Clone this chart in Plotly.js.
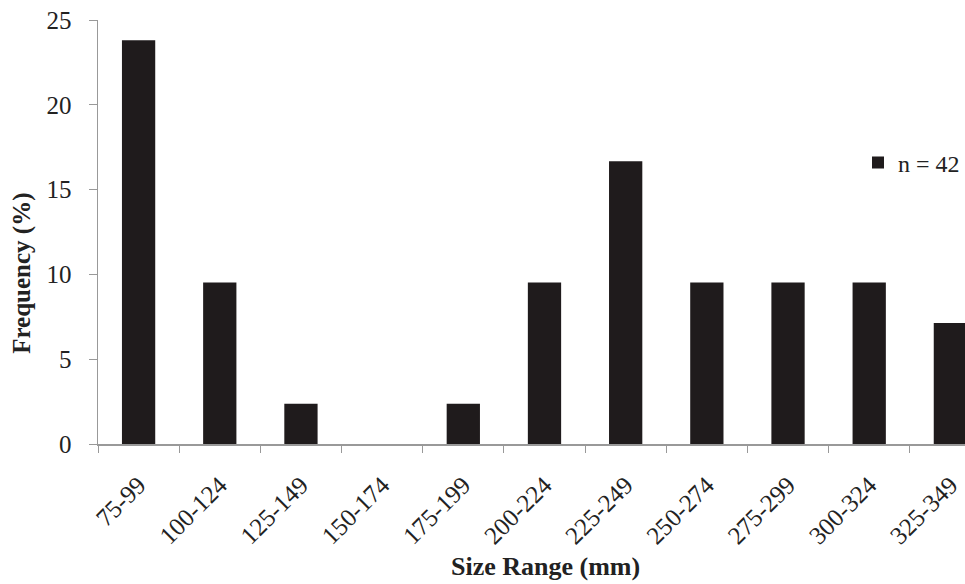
<!DOCTYPE html>
<html>
<head>
<meta charset="utf-8">
<script src="https://cdn.plot.ly/plotly-3.0.1.min.js"></script>
<style>html,body{margin:0;padding:0;background:#fff;}#chart{width:965px;height:584px;}</style>
</head>
<body>
<div id="chart"></div>
<script>
const categories = ["75-99","100-124","125-149","150-174","175-199","200-224","225-249","250-274","275-299","300-324","325-349"];
const frequency = [23.81, 9.52, 2.38, 0, 2.38, 9.52, 16.67, 9.52, 9.52, 9.52, 7.14];
const seriesName = "n = 42";
const xTitle = "Size Range (mm)";
const yTitle = "Frequency (%)";

const serif = "Liberation Serif";
const trace = {
  type: "bar",
  x: categories,
  y: frequency,
  name: seriesName,
  marker: {color: "#1f1b1c", line: {width: 0}},
  showlegend: true
};
const layout = {
  width: 965, height: 584,
  margin: {l: 98, r: 0, t: 20, b: 140},
  paper_bgcolor: "#fff", plot_bgcolor: "#fff",
  bargap: 0.59,
  font: {family: serif, color: "#222", size: 24},
  xaxis: {
    type: "category",
    range: [-0.5, 10.18],
    tickson: "boundaries",
    ticks: "outside", ticklen: 7, tickcolor: "#999", tickwidth: 1,
    showline: true, linecolor: "#999", linewidth: 1.5,
    showgrid: false, zeroline: false,
    tickangle: -45,
    ticklabelstandoff: 15,
    tickfont: {family: serif, size: 25, color: "#222"}
  },
  yaxis: {
    range: [0, 25],
    tickvals: [0, 5, 10, 15, 20, 25],
    ticks: "outside", ticklen: 8, tickcolor: "#999", tickwidth: 1,
    showline: true, linecolor: "#999", linewidth: 1.5,
    showgrid: false, zeroline: false,
    ticklabelstandoff: 12,
    tickfont: {family: serif, size: 25, color: "#222"}
  },
  annotations: [
    {text: "<b>" + xTitle + "</b>", xref: "paper", yref: "paper", x: 0.516, y: -0.289,
     xanchor: "center", yanchor: "middle", showarrow: false,
     font: {family: serif, size: 26, color: "#222"}},
    {text: "<b>" + yTitle + "</b>", xref: "paper", yref: "paper", x: -0.088, y: 0.403,
     xanchor: "center", yanchor: "middle", showarrow: false, textangle: -90,
     font: {family: serif, size: 25, color: "#222"}}
  ],
  legend: {
    x: 1, xanchor: "right", y: 0.663, yanchor: "middle",
    bgcolor: "rgba(0,0,0,0)",
    font: {family: serif, size: 24, color: "#222"},
    itemwidth: 30
  }
};
Plotly.newPlot("chart", [trace], layout, {displayModeBar: false, staticPlot: true});
</script>
</body>
</html>
